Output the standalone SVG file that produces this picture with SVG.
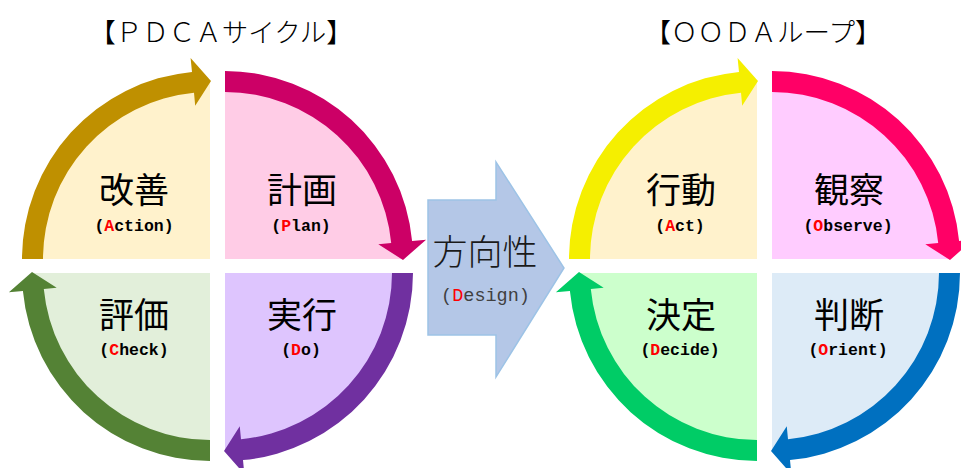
<svg xmlns="http://www.w3.org/2000/svg" width="961" height="468" viewBox="0 0 961 468">
<style>
.title{font-family:"Noto Sans CJK JP","Noto Sans",sans-serif;font-size:26.5px;fill:#000;text-anchor:middle;font-weight:300}
.jp{font-family:"Noto Sans CJK JP","Noto Sans",sans-serif;font-size:35px;fill:#000;text-anchor:middle;font-weight:400}
.en{font-family:"Liberation Mono",monospace;font-size:16.5px;font-weight:bold;fill:#000;text-anchor:middle}
.r{fill:#FF0000}
.jpd{font-family:"Noto Sans CJK JP","Noto Sans",sans-serif;font-size:35px;fill:#1a1a1a;text-anchor:middle;font-weight:300}
.end{font-family:"Liberation Mono",monospace;font-size:18.5px;fill:#404040;text-anchor:middle}
</style>
<rect width="961" height="468" fill="#fff"/>
<text class="title" x="221" y="42">【ＰＤＣＡサイクル】</text>
<text class="title" x="763" y="42">【ＯＯＤＡループ】</text>

<g id="pdca-action">
<path d="M 210 259 L 32 259 A 178 178 0 0 1 210 81 Z" fill="#FFF2CC"/>
<text class="jp" x="134" y="203">改善</text>
<text class="en" x="134" y="231">(<tspan class="r">A</tspan>ction)</text>
</g>
<g id="pdca-plan">
<path d="M 225 259 L 225 81 A 178 178 0 0 1 403 259 Z" fill="#FFCCE6"/>
<text class="jp" x="302" y="203">計画</text>
<text class="en" x="301" y="231">(<tspan class="r">P</tspan>lan)</text>
</g>
<g id="pdca-do">
<path d="M 225 273 L 403 273 A 178 178 0 0 1 225 451 Z" fill="#DEC5FE"/>
<text class="jp" x="302" y="328">実行</text>
<text class="en" x="301" y="355">(<tspan class="r">D</tspan>o)</text>
</g>
<g id="pdca-check">
<path d="M 210 273 L 210 451 A 178 178 0 0 1 32 273 Z" fill="#E2EFDA"/>
<text class="jp" x="134" y="328">評価</text>
<text class="en" x="134" y="355">(<tspan class="r">C</tspan>heck)</text>
</g>

<g id="design">
<path d="M 428 200 L 496 200 L 496 162 L 564 268 L 496 377 L 496 335 L 428 335 Z" fill="#B4C7E7" stroke="#9DC3E6" stroke-width="1.5"/>
<text class="jpd" x="485" y="265">方向性</text>
<text class="end" x="485.5" y="301">(<tspan class="r">D</tspan>esign)</text>
</g>

<g id="ooda-act">
<path d="M 757 259 L 579 259 A 178 178 0 0 1 757 81 Z" fill="#FFF2CC"/>
<text class="jp" x="681" y="203">行動</text>
<text class="en" x="680" y="231">(<tspan class="r">A</tspan>ct)</text>
</g>
<g id="ooda-observe">
<path d="M 772 259 L 772 81 A 178 178 0 0 1 950 259 Z" fill="#FFCCFF"/>
<text class="jp" x="849" y="203">観察</text>
<text class="en" x="848" y="231">(<tspan class="r">O</tspan>bserve)</text>
</g>
<g id="ooda-orient">
<path d="M 772 273 L 950 273 A 178 178 0 0 1 772 451 Z" fill="#DDEBF7"/>
<text class="jp" x="849" y="328">判断</text>
<text class="en" x="848" y="355">(<tspan class="r">O</tspan>rient)</text>
</g>
<g id="ooda-decide">
<path d="M 757 273 L 757 451 A 178 178 0 0 1 579 273 Z" fill="#CCFFCC"/>
<text class="jp" x="681" y="328">決定</text>
<text class="en" x="680" y="355">(<tspan class="r">D</tspan>ecide)</text>
</g>

<g id="connectors">
<path d="M 22 259 A 188 188 0 0 1 192.0 71.9 L 190.6 57.9 L 211 81 L 195.2 105.7 L 194.0 92.8 A 167 167 0 0 0 43 259 Z" fill="#BF9000"/>
<path d="M 225 71 A 188 188 0 0 1 412.1 241.0 L 426.1 239.65 L 403 260 L 378.3 244.25 L 391.2 243.0 A 167 167 0 0 0 225 92 Z" fill="#CC0066"/>
<path d="M 413 273 A 188 188 0 0 1 243.0 460.1 L 244.35 474.1 L 224 451 L 239.75 426.3 L 241.0 439.2 A 167 167 0 0 0 392 273 Z" fill="#7030A0"/>
<path d="M 210 461 A 188 188 0 0 1 22.9 291.0 L 8.9 292.35 L 32 272 L 56.7 287.75 L 43.8 289.0 A 167 167 0 0 0 210 440 Z" fill="#548235"/>
<path d="M 569 259 A 188 188 0 0 1 739.0 71.9 L 737.6 57.9 L 758 81 L 742.2 105.7 L 741.0 92.8 A 167 167 0 0 0 590 259 Z" fill="#F5EF00"/>
<path d="M 772 71 A 188 188 0 0 1 959.1 241.0 L 973.1 239.65 L 950 260 L 925.3 244.25 L 938.2 243.0 A 167 167 0 0 0 772 92 Z" fill="#FF0066"/>
<path d="M 960 273 A 188 188 0 0 1 790.0 460.1 L 791.35 474.1 L 771 451 L 786.75 426.3 L 788.0 439.2 A 167 167 0 0 0 939 273 Z" fill="#0070C0"/>
<path d="M 757 461 A 188 188 0 0 1 569.9 291.0 L 555.9 292.35 L 579 272 L 603.7 287.75 L 590.8 289.0 A 167 167 0 0 0 757 440 Z" fill="#00CC66"/>
</g>
</svg>
